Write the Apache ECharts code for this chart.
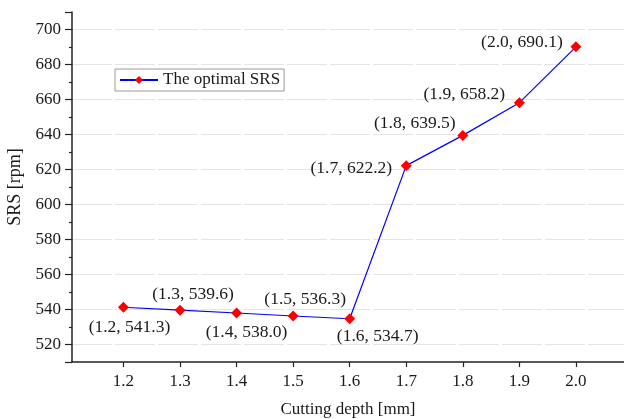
<!DOCTYPE html>
<html>
<head>
<meta charset="utf-8">
<script src="https://cdn.jsdelivr.net/npm/echarts@6/dist/echarts.min.js"></script>
<style>html,body{margin:0;padding:0;background:#fff}#c{width:624px;height:419px}</style>
</head>
<body>
<div id="c"></div>
<script>
const depths = [1.2, 1.3, 1.4, 1.5, 1.6, 1.7, 1.8, 1.9, 2.0];
const srs = [541.3, 539.6, 538.0, 536.3, 534.7, 622.2, 639.5, 658.2, 690.1];
const xTickValues = [1.2, 1.3, 1.4, 1.5, 1.6, 1.7, 1.8, 1.9, 2.0];
const seriesName = 'The optimal SRS';
const labelOffsets = [[6,20],[13,-16],[10,19],[12,-17],[28,18],[-55,3],[-48,-12],[-55,-8],[-54,-4]];

const font = 'Liberation Serif';
const chart = echarts.init(document.getElementById('c'));
chart.setOption({
  animation: false,
  backgroundColor: '#fff',
  grid: { left: 72, right: 0, top: 12, bottom: 57, containLabel: false, outerBoundsMode: 'none' },
  legend: {
    left: 115, top: 69,
    padding: [2, 4],
    itemWidth: 38, itemHeight: 10, itemGap: 5,
    borderColor: '#999', borderWidth: 1, borderRadius: 0,
    textStyle: { fontFamily: font, fontSize: 17, color: '#1a1a1a', lineHeight: 18 },
    data: [seriesName]
  },
  xAxis: {
    type: 'value', min: 1.109, max: 2.085, splitNumber: 10,
    name: 'Cutting depth [mm]', nameLocation: 'middle', nameGap: 39,
    nameTextStyle: { fontFamily: font, fontSize: 17, color: '#1a1a1a' },
    axisLine: { show: true, lineStyle: { color: '#222', width: 1.5 } },
    axisTick: { show: true, length: 5, lineStyle: { color: '#222', width: 1.2 }, customValues: xTickValues },
    axisLabel: { fontFamily: font, fontSize: 17, color: '#1a1a1a', margin: 11, customValues: xTickValues,
      formatter: v => v.toFixed(1) },
    splitLine: { show: false }
  },
  yAxis: {
    type: 'value', min: 510, max: 710, splitNumber: 10,
    name: 'SRS [rpm]', nameLocation: 'middle', nameGap: 44,
    nameTextStyle: { fontFamily: font, fontSize: 18, color: '#1a1a1a' },
    axisLine: { show: true, lineStyle: { color: '#222', width: 1.5 } },
    axisTick: { show: true, length: 7, lineStyle: { color: '#222', width: 1.2 } },
    minorTick: { show: true, splitNumber: 2, length: 3, lineStyle: { color: '#222', width: 1.2 } },
    axisLabel: { fontFamily: font, fontSize: 17, color: '#1a1a1a', margin: 11, showMinLabel: false, showMaxLabel: false },
    splitLine: { show: true, showMinLine: false, showMaxLine: false, lineStyle: { color: '#e4e4e4', width: 1, type: [40, 3] } }
  },
  series: [{
    name: seriesName,
    type: 'line',
    data: depths.map((d, i) => [d, srs[i]]),
    symbol: 'diamond', symbolSize: 11,
    itemStyle: { color: '#ff0000' },
    lineStyle: { color: '#0000ff', width: 1.2 },
    label: {
      show: true, position: 'inside',
      fontFamily: font, fontSize: 17.5, color: '#1a1a1a',
      formatter: p => '(' + p.value[0].toFixed(1) + ', ' + p.value[1].toFixed(1) + ')'
    },
    labelLayout: p => ({ dx: labelOffsets[p.dataIndex][0], dy: labelOffsets[p.dataIndex][1], hideOverlap: false })
  }]
});
</script>
</body>
</html>
